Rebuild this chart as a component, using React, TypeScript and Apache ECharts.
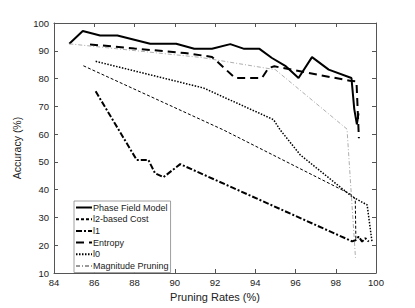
import React, { useEffect, useRef } from "react";
import * as echarts from "echarts";

const xTicks = [84, 86, 88, 90, 92, 94, 96, 98, 100];
const yTicks = [10, 20, 30, 40, 50, 60, 70, 80, 90, 100];

const seriesNames = ["Phase Field Model", "l2-based Cost", "l1", "Entropy", "l0", "Magnitude Pruning"];

const phaseX = [84.76, 85.43, 86.29, 87.15, 88.78, 90.07, 90.97, 91.85, 92.76, 93.45, 94.21, 94.83, 95.49, 96.15, 96.82, 97.65, 98.78, 98.92, 99.05, 99.13];
const phaseY = [92.5, 97.1, 95.5, 95.5, 92.5, 92.5, 90.7, 90.7, 92.4, 90.7, 90.7, 87.4, 84.6, 80.2, 87.7, 83.2, 80.2, 69.0, 63.5, 67.5];

const l2X = [85.46, 92.42, 98.81, 98.97, 99.0];
const l2Y = [84.6, 61.5, 38.1, 36.5, 21.8];

const l1X = [86.07, 88.11, 88.69, 89.02, 89.44, 90.27, 98.81, 98.98, 99.14, 99.31, 99.47, 99.64];
const l1Y = [75.4, 50.7, 50.7, 45.9, 44.5, 49.2, 21.4, 21.8, 23.1, 21.3, 22.5, 21.3];

const entropyX = [85.79, 88.0, 90.5, 91.85, 93.0, 94.33, 94.66, 94.95, 98.7, 99.03, 99.15];
const entropyY = [92.3, 90.8, 89.2, 87.8, 80.2, 80.2, 83.8, 84.4, 79.2, 79.0, 58.5];

const l0X = [86.07, 91.43, 94.91, 95.24, 96.24, 98.81, 99.56, 99.8];
const l0Y = [86.2, 76.6, 65.2, 61.5, 52.5, 37.5, 34.5, 21.3];

const magX = [84.76, 91.3, 95.0, 98.56, 98.98];
const magY = [92.5, 87.6, 83.2, 61.8, 15.5];

const pairs = (xs: number[], ys: number[]) => xs.map((x, i) => [x, ys[i]]);

export default function App() {
  const ref = useRef<HTMLDivElement>(null);
  useEffect(() => {
    if (!ref.current) return;
    const chart = echarts.init(ref.current, null, { renderer: "svg" });
    const font = "Liberation Sans, Arial, Helvetica, sans-serif";
    const axisLine = { show: true, lineStyle: { color: "#555", width: 1 } };
    const mk = (name: string, xs: number[], ys: number[], color: string, width: number, type: any) => ({
      name,
      type: "line",
      data: pairs(xs, ys),
      showSymbol: false,
      symbol: "none",
      lineStyle: { color, width, type },
      itemStyle: { color },
      z: 3,
    });
    chart.setOption({
      animation: false,
      backgroundColor: "#fff",
      textStyle: { fontFamily: font },
      grid: { left: 54, right: 39, top: 23, bottom: 35 },
      legend: {
        orient: "vertical",
        left: 74,
        top: 201,
        padding: [2, 2, 2, 1],
        itemWidth: 16,
        itemHeight: 8,
        itemGap: 2.7,
        backgroundColor: "#fff",
        borderColor: "#888",
        borderWidth: 0.8,
        borderRadius: 0,
        itemStyle: { opacity: 0 },
        textStyle: { fontSize: 9, color: "#222", fontFamily: font, padding: [0, 0, 0, -4] },
        data: seriesNames,
      },
      xAxis: [
        {
          type: "value",
          min: xTicks[0],
          max: xTicks[xTicks.length - 1],
          interval: 2,
          position: "bottom",
          name: "Pruning Rates (%)",
          nameLocation: "middle",
          nameGap: 18,
          nameTextStyle: { fontSize: 11, color: "#222", fontFamily: font },
          axisLine,
          axisTick: { show: true, inside: true, length: 4, lineStyle: { color: "#555" } },
          axisLabel: { fontSize: 9.5, color: "#222", margin: 4, fontFamily: font },
          splitLine: { show: false },
        },
        {
          type: "value",
          min: xTicks[0],
          max: xTicks[xTicks.length - 1],
          interval: 2,
          position: "top",
          axisLine,
          axisTick: { show: true, inside: true, length: 4, lineStyle: { color: "#555" } },
          axisLabel: { show: false },
          splitLine: { show: false },
        },
      ],
      yAxis: [
        {
          type: "value",
          min: yTicks[0],
          max: yTicks[yTicks.length - 1],
          interval: 10,
          position: "left",
          name: "Accuracy (%)",
          nameLocation: "middle",
          nameGap: 21,
          nameRotate: 90,
          nameTextStyle: { fontSize: 10.5, color: "#222", fontFamily: font },
          axisLine,
          axisTick: { show: true, inside: true, length: 4, lineStyle: { color: "#555" } },
          axisLabel: { fontSize: 9.5, color: "#222", margin: 5, fontFamily: font },
          splitLine: { show: false },
        },
        {
          type: "value",
          min: yTicks[0],
          max: yTicks[yTicks.length - 1],
          interval: 10,
          position: "right",
          axisLine,
          axisTick: { show: true, inside: true, length: 4, lineStyle: { color: "#555" } },
          axisLabel: { show: false },
          splitLine: { show: false },
        },
      ],
      series: [
        mk(seriesNames[0], phaseX, phaseY, "#000", 2, "solid"),
        mk(seriesNames[1], l2X, l2Y, "#000", 1, [3, 2]),
        mk(seriesNames[2], l1X, l1Y, "#000", 2, [6, 2, 2, 2]),
        mk(seriesNames[3], entropyX, entropyY, "#000", 2, [8, 5]),
        mk(seriesNames[4], l0X, l0Y, "#000", 1.5, [1.5, 1.5]),
        mk(seriesNames[5], magX, magY, "#999", 0.8, [4, 2, 1, 2]),
      ],
    });
    return () => chart.dispose();
  }, []);
  return <div ref={ref} style={{ width: 415, height: 308, position: "absolute", left: 0, top: 0 }} />;
}
